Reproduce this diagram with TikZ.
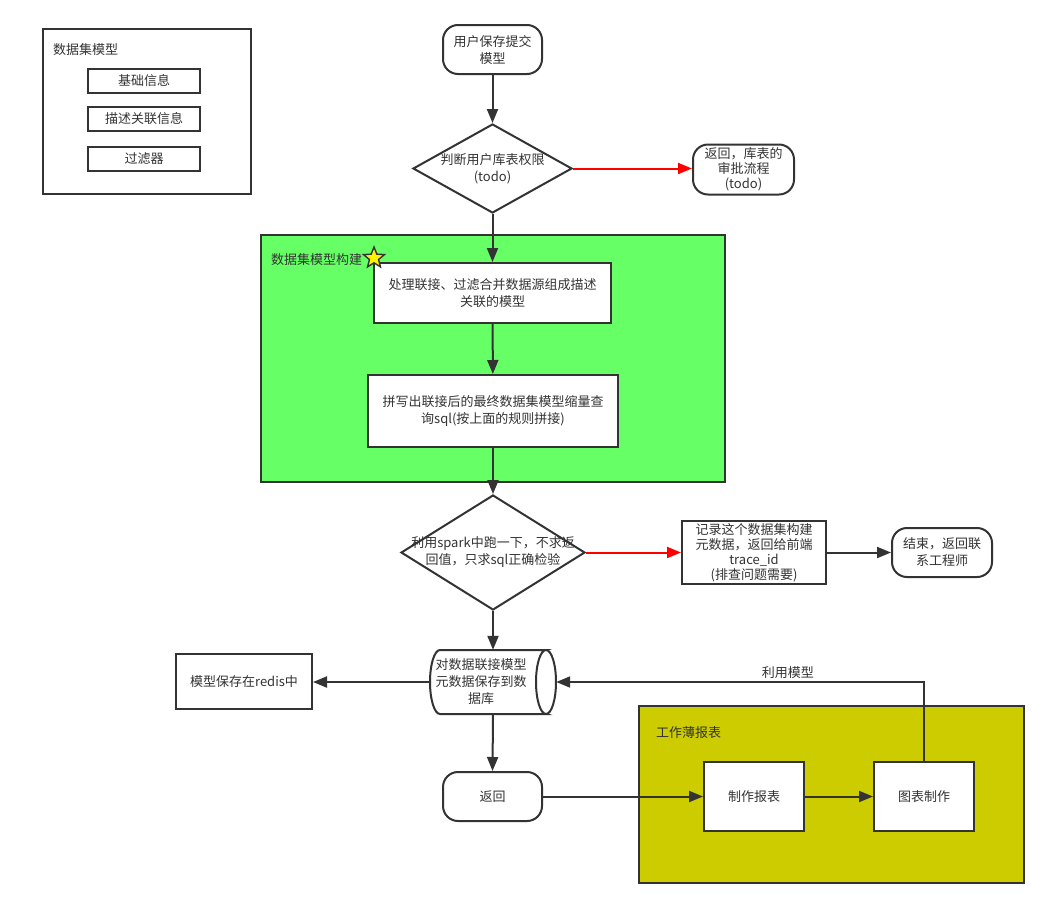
\documentclass[tikz,border=0pt]{standalone}
\usepackage{fontspec}
\setmainfont{Noto Sans CJK SC}
\usetikzlibrary{arrows.meta,shapes.geometric}
\definecolor{ink}{HTML}{333333}
\definecolor{greenbg}{HTML}{66FF66}
\definecolor{olivebg}{HTML}{CCCC00}
\begin{document}
\begin{tikzpicture}[x=1pt,y=-1pt,
  every node/.style={font=\fontsize{13}{17}\selectfont, text=ink, align=center},
  box/.style={draw=ink, line width=2pt, fill=white, align=center, inner sep=2pt},
  rbox/.style={box, rounded corners=15pt},
  dia/.style={draw=ink, line width=2pt, fill=white, diamond, align=center, inner sep=0pt},
  cont/.style={draw=ink, line width=2pt},
  conn/.style={draw=ink, line width=2pt, -{Triangle[length=14pt,width=11pt]}},
  rconn/.style={draw=red, line width=2pt, -{Triangle[length=14pt,width=11pt]}},
  lbl/.style={anchor=west, inner sep=0pt}
]
\useasboundingbox (0,0) rectangle (1049,908);
\fill[white] (0,0) rectangle (1049,908);

% legend
\draw[cont] (43,29) rectangle (251,194);
\node[lbl] (legt) at (53,50) {数据集模型};
\node[box, minimum width=112pt, minimum height=24pt] (lg1) at (144,81) {基础信息};
\node[box, minimum width=112pt, minimum height=24pt] (lg2) at (144,119) {描述关联信息};
\node[box, minimum width=112pt, minimum height=24pt] (lg3) at (144,159) {过滤器};

% containers
\draw[cont, fill=greenbg] (261,235) rectangle (725,482);
\node[lbl] (gl) at (271,260) {数据集模型构建};
\draw[cont, fill=olivebg] (639,706) rectangle (1024,883);
\node[lbl] (yl) at (656,733) {工作薄报表};

% nodes
\node[rbox, minimum width=99pt, minimum height=49pt] (start) at (492.5,49.5) {用户保存提交\\模型};
\node[dia, minimum width=159pt, minimum height=89pt] (d1) at (492.5,168.5) {};
\node (d1t) at (d1.center) {判断用户库表权限\\(todo)};
\node[rbox, minimum width=101pt, minimum height=50pt, inner sep=0pt, font=\fontsize{13}{15}\selectfont] (ret1) at (743.5,169.5) {返回，库表的\\审批流程\\(todo)};

\node[box, minimum width=237pt, minimum height=60pt] (b1) at (492.5,293) {处理联接、过滤合并数据源组成描述\\关联的模型};
\node[box, minimum width=250pt, minimum height=72pt] (b2) at (493,411) {拼写出联接后的最终数据集模型缩量查\\询sql(按上面的规则拼接)};
\node[star, star points=5, star point ratio=2.3, draw=ink, line width=1.4pt, fill=yellow, minimum size=22pt, inner sep=0pt] (st) at (374,258) {};

\node[dia, minimum width=184pt, minimum height=115pt] (d2) at (493,552.5) {};
\node (d2t) at (d2.center) {利用spark中跑一下，不求返\\回值，只求sql正确检验};

\node[box, minimum width=144pt, minimum height=63pt, inner sep=0pt, font=\fontsize{13}{15}\selectfont] (rec) at (754,552.5) {记录这个数据集构建\\元数据，返回给前端\\trace\_id\\(排查问题需要)};
\node[rbox, minimum width=100pt, minimum height=49pt] (end) at (942,552.5) {结束，返回联\\系工程师};

% cylinder
\node[minimum width=126pt, minimum height=64pt, inner sep=0pt] (cyl) at (493,682) {};
\draw[ink, line width=2pt, fill=white] (440,650) -- (546,650) arc[start angle=90, end angle=270, x radius=10, y radius=-32] -- (440,714) arc[start angle=270, end angle=90, x radius=10, y radius=-32] -- cycle;
\draw[ink, line width=2pt] (546,650) arc[start angle=90, end angle=-90, x radius=10, y radius=-32];
\node (cylt) at (481,682) {对数据联接模型\\元数据保存到数\\据库};

\node[box, minimum width=136pt, minimum height=55pt] (redis) at (244,681.5) {模型保存在redis中};
\node[rbox, minimum width=99pt, minimum height=49pt] (ret2) at (492.5,796.5) {返回};
\node[box, minimum width=100pt, minimum height=69pt] (mk) at (754,796.5) {制作报表};
\node[box, minimum width=100pt, minimum height=69pt] (ch) at (924,796.5) {图表制作};

% connectors
\draw[conn] (start) -- (d1);
\draw[rconn] (d1.east) -- (d1.east -| ret1.west);
\draw[conn] (d1.south) -- (b1.north);
\draw[conn] (b1) -- (b2);
\draw[conn] (b2.south) -- (d2.north);
\draw[rconn] (d2.east) -- (rec.west);
\draw[conn] (rec) -- (end);
\draw[conn] (d2.south) -- (cyl.north);
\draw[conn] (cyl.west) -- (cyl.west -| redis.east);
\draw[conn] (cyl.south) -- (ret2.north);
\draw[conn] (ret2.east) -- (mk.west);
\draw[conn] (mk) -- (ch);
\draw[conn] (ch.north) |- node[pos=0.685, above=1pt, inner sep=1pt] (ul) {利用模型} (cyl.east);
\end{tikzpicture}
\end{document}
